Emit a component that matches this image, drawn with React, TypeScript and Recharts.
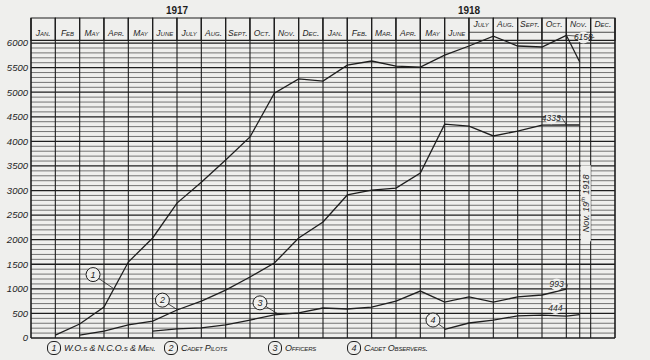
import { LineChart, Line, XAxis, YAxis, ReferenceLine, ReferenceArea, ReferenceDot } from 'recharts';

// month-end positions (0 = start of Jan 1917, 24 = end of Dec 1918); 22.55 = armistice line
const monthEnds = [1, 2, 3, 4, 5, 6, 7, 8, 9, 10, 11, 12, 13, 14, 15, 16, 17, 18, 19, 20, 21, 22, 22.55];

const menValues = [60, 285, 630, 1545, 2035, 2745, 3170, 3620, 4090, 4980, 5270, 5225, 5550, 5635, 5530, 5510, 5755, 5940, 6140, 5940, 5920, 6158, 5615];
const pilotValues = [null, 60, 140, 265, 345, 570, 750, 975, 1240, 1525, 2035, 2360, 2910, 3010, 3050, 3355, 4350, 4310, 4110, 4210, 4330, 4333, 4333];
const officerValues = [null, null, null, null, 140, 185, 205, 265, 365, 470, 510, 610, 590, 630, 750, 955, 730, 835, 730, 835, 875, 993, null];
const observerValues = [null, null, null, null, null, null, null, null, null, null, null, null, null, null, null, null, 175, 305, 365, 450, 465, 444, 475];

const months1917 = ['Jan.', 'Feb', 'May', 'Apr.', 'May', 'June', 'July', 'Aug.', 'Sept.', 'Oct.', 'Nov.', 'Dec.'];
const months1918 = ['Jan.', 'Feb.', 'Mar.', 'Apr.', 'May', 'June', 'July', 'Aug.', 'Sept.', 'Oct.', 'Nov.', 'Dec.'];
const years = ['1917', '1918'];

const yTicks = [0, 500, 1000, 1500, 2000, 2500, 3000, 3500, 4000, 4500, 5000, 5500, 6000];

const legendItems = ['W.O.s & N.C.O.s & Men.', 'Cadet Pilots', 'Officers', 'Cadet Observers.'];

const table = monthEnds.map((x, i) => ({
  x,
  men: menValues[i],
  pilots: pilotValues[i],
  officers: officerValues[i],
  observers: observerValues[i],
}));

const font = '"Liberation Sans", Arial, sans-serif';
const ink = '#1e1e1e';
const paper = '#efefed';
const Y_TOP = 6510;
const HEADER_BASE = 6055;

const gridValues: number[] = [];
for (let v = 100; v <= 6000; v += 100) gridValues.push(v);
const colLines: number[] = [];
for (let i = 0; i <= 24; i++) colLines.push(i);

const labelStyle = { fontSize: 9.5, fontStyle: 'italic', fill: ink, fontFamily: font };

// circled series numbers on the plot, with leader end points
const callouts = [
  { n: '1', x: 2.55, y: 1290, tx: 3.38, ty: 1010 },
  { n: '2', x: 5.4, y: 770, tx: 6.0, ty: 580 },
  { n: '3', x: 9.41, y: 715, tx: 10.15, ty: 490 },
  { n: '4', x: 16.52, y: 365, tx: 17.02, ty: 185 },
];

const endLabels = [
  { text: '6158', x: 22.7, y: 6115, tx: 22.0, ty: 6158 },
  { text: '4333', x: 21.38, y: 4470, tx: 22.0, ty: 4340 },
  { text: '993', x: 21.6, y: 1090, tx: 22.0, ty: 993 },
  { text: '444', x: 21.55, y: 610, tx: 22.0, ty: 450 },
];

const Armistice = (p: any) => {
  const { cx, cy } = p;
  return (
    <g>
      <rect x={cx - 5} y={cy - 38} width={10} height={76} fill={paper} />
      <text
        x={cx}
        y={cy}
        transform={`rotate(-90 ${cx} ${cy})`}
        textAnchor="middle"
        dominantBaseline="central"
        fontSize={9}
        fontStyle="italic"
        fontFamily={font}
        fill={ink}
      >
        Nov. 19<tspan fontSize={6} dy={-3}>th</tspan><tspan dy={3}> 1918</tspan>
      </text>
    </g>
  );
};

export default function App() {
  return (
    <div style={{ position: 'absolute', left: 0, top: 0, width: 650, height: 360, background: paper, fontFamily: font }}>
      <LineChart width={650} height={360} data={table} margin={{ top: 18, right: 0, bottom: 22, left: 0 }}>
        <XAxis type="number" dataKey="x" domain={[0, 24]} hide />
        <YAxis
          domain={[0, Y_TOP]}
          ticks={yTicks}
          width={31}
          axisLine={false}
          tickLine={false}
          tickSize={0}
          tickMargin={3}
          interval={0}
          tick={labelStyle}
        />
        <YAxis
          yAxisId="r"
          orientation="right"
          domain={[0, Y_TOP]}
          ticks={yTicks}
          width={35}
          axisLine={false}
          tickLine={false}
          tickSize={0}
          tickMargin={6}
          interval={0}
          tick={labelStyle}
        />

        {months1917.concat(months1918).map((m, k) => (
          <ReferenceArea
            key={`h${k}`}
            x1={k}
            x2={k + 1}
            y1={HEADER_BASE}
            y2={Y_TOP}
            fill={paper}
            fillOpacity={1}
            stroke={ink}
            strokeWidth={1.1}
            label={{
              value: m,
              position: k >= 18 ? 'insideTop' : 'insideBottom',
              offset: k >= 18 ? 3 : 4,
              fontSize: 8.5,
              fontStyle: 'italic',
              fill: ink,
              fontFamily: font,
              style: { fontVariant: 'small-caps' },
            }}
          />
        ))}
        {years.map((yr, k) => (
          <ReferenceArea
            key={yr}
            x1={k * 12}
            x2={k * 12 + 12}
            y1={HEADER_BASE}
            y2={Y_TOP}
            fill="none"
            stroke="none"
            label={{ value: yr, position: 'top', offset: 4, fontSize: 10, fontWeight: 700, fill: ink, fontFamily: font }}
          />
        ))}
        <ReferenceLine segment={[{ x: 18, y: 6220 }, { x: 24, y: 6220 }]} stroke={ink} strokeWidth={0.8} />

        {gridValues.map((v) => (
          <ReferenceLine
            key={`g${v}`}
            y={v}
            stroke={ink}
            strokeWidth={v % 500 === 0 ? 1.3 : 0.7}
            strokeOpacity={v % 500 === 0 ? 1 : 0.85}
          />
        ))}
        <ReferenceLine y={0} stroke={ink} strokeWidth={1.6} />
        {colLines.map((i) => (
          <ReferenceLine
            key={`c${i}`}
            x={i}
            stroke={ink}
            strokeWidth={i === 0 || i === 24 ? 1.6 : 1.1}
          />
        ))}
        <ReferenceLine segment={[{ x: 22.55, y: 0 }, { x: 22.55, y: 6090 }]} stroke={ink} strokeWidth={1.1} />
        <ReferenceDot x={22.8} y={2740} r={1} shape={Armistice} />

        <Line dataKey="men" stroke={ink} strokeWidth={1.3} dot={false} isAnimationActive={false} />
        <Line dataKey="pilots" stroke={ink} strokeWidth={1.3} dot={false} isAnimationActive={false} />
        <Line dataKey="officers" stroke={ink} strokeWidth={1.3} dot={false} isAnimationActive={false} />
        <Line dataKey="observers" stroke={ink} strokeWidth={1.3} dot={false} isAnimationActive={false} />

        {callouts.map((c) => (
          <ReferenceLine key={`l${c.n}`} segment={[{ x: c.x, y: c.y }, { x: c.tx, y: c.ty }]} stroke={ink} strokeWidth={0.8} />
        ))}
        {callouts.map((c) => (
          <ReferenceDot
            key={`c${c.n}`}
            x={c.x}
            y={c.y}
            r={7}
            fill={paper}
            stroke={ink}
            strokeWidth={1}
            label={{ value: c.n, position: 'center', fontSize: 9, fontStyle: 'italic', fill: ink, fontFamily: font }}
          />
        ))}
        {endLabels.map((e) => (
          <ReferenceLine key={`el${e.text}`} segment={[{ x: e.x + 0.45, y: e.y }, { x: e.tx, y: e.ty }]} stroke={ink} strokeWidth={0.7} />
        ))}
        {endLabels.map((e) => (
          <ReferenceDot
            key={`e${e.text}`}
            x={e.x}
            y={e.y}
            r={6}
            fill={paper}
            stroke="none"
            label={{ value: e.text, position: 'center', fontSize: 8.5, fontStyle: 'italic', fill: ink, fontFamily: font }}
          />
        ))}
      </LineChart>

      {legendItems.map((t, i) => (
        <div
          key={t}
          style={{
            position: 'absolute',
            top: 341,
            left: [47, 164, 268, 347][i],
            display: 'flex',
            alignItems: 'center',
            fontSize: 9,
            letterSpacing: -0.2,
            fontStyle: 'italic',
            fontVariant: 'small-caps',
            color: ink,
            whiteSpace: 'nowrap',
          }}
        >
          <span
            style={{
              display: 'inline-block',
              width: 12,
              height: 12,
              borderRadius: 6,
              border: `1px solid ${ink}`,
              fontSize: 9,
              lineHeight: '12px',
              textAlign: 'center',
              marginRight: 3,
              letterSpacing: 0,
            }}
          >
            {i + 1}
          </span>
          {t}
        </div>
      ))}
    </div>
  );
}
